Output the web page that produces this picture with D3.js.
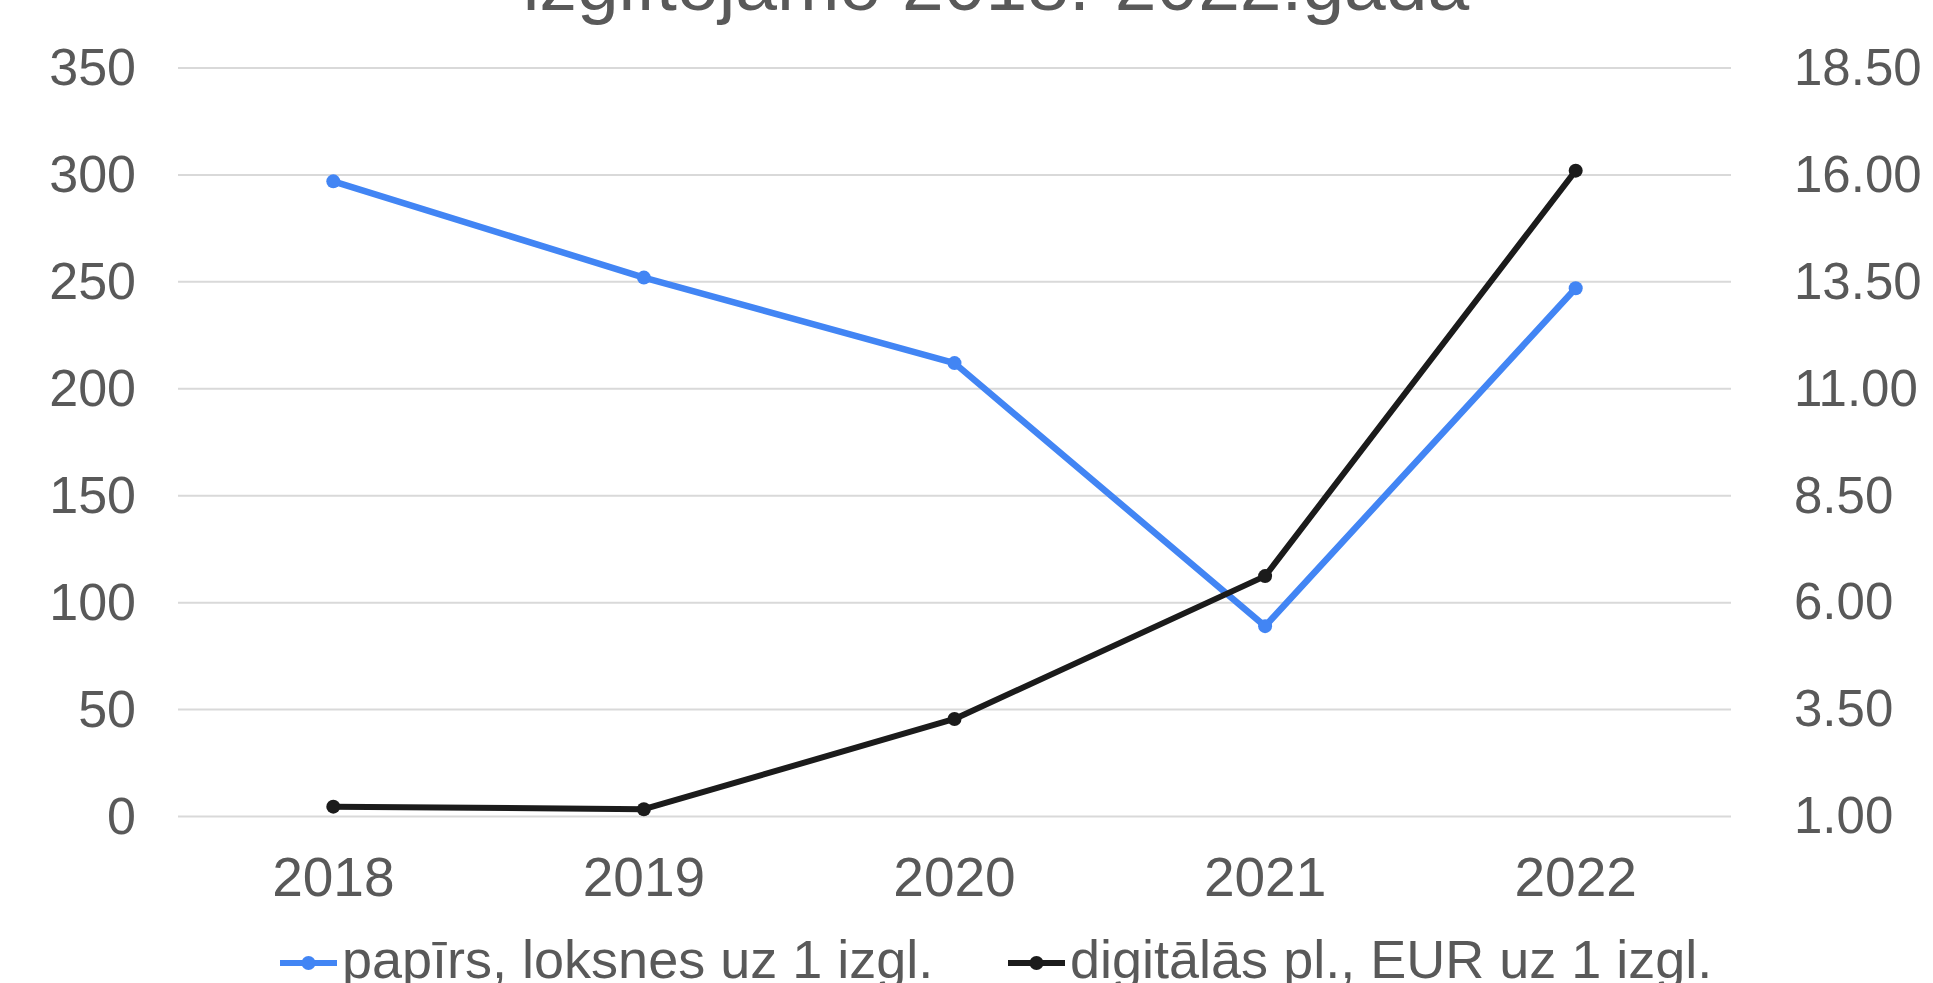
<!DOCTYPE html>
<html>
<head>
<meta charset="utf-8">
<script src="https://cdn.jsdelivr.net/npm/d3@7/dist/d3.min.js"></script>
<style>
  html, body { margin: 0; padding: 0; background: #fff; overflow: hidden; }
  svg { display: block; }
  text { font-family: "Liberation Sans", Arial, sans-serif; }
</style>
</head>
<body>
<svg id="chart" width="1933" height="983"></svg>
<script>
// Years on the category axis
const years = ["2018", "2019", "2020", "2021", "2022"];
// Paper: sheets per learner (left axis)
const paperSheets = [297, 252, 212, 89, 247];
// Digital resources: EUR per learner (right axis)
const digitalEur = [1.23, 1.17, 3.28, 6.62, 16.10];
// Axis tick values
const leftTicks = [0, 50, 100, 150, 200, 250, 300, 350];
const rightTicks = [1.00, 3.50, 6.00, 8.50, 11.00, 13.50, 16.00, 18.50];
// Legend and title labels
const seriesNames = ["papīrs, loksnes uz 1 izgl.", "digitālās pl., EUR uz 1 izgl."];
const titleText = "izglītojamo 2018.-2022.gadā";

const svg = d3.select("#chart");
const plot = { left: 178, right: 1731, top: 68, bottom: 816.5 };

const x = d3.scaleBand().domain(years).range([plot.left, plot.right]);
const yLeft = d3.scaleLinear().domain([0, 350]).range([plot.bottom, plot.top]);
const yRight = d3.scaleLinear().domain([1, 18.5]).range([plot.bottom, plot.top]);
const cx = d => x(d) + x.bandwidth() / 2;

const textColor = "#595959";
const blue = "#4285f4";
const black = "#1b1b1b";
const fontFamily = "Liberation Sans, Arial, sans-serif";

// Title (last line, partly above the top edge)
svg.append("text")
  .attr("x", 996).attr("y", 10)
  .attr("text-anchor", "middle")
  .attr("font-size", 75)
  .attr("fill", textColor)
  .text(titleText);

// Horizontal gridlines
svg.append("g")
  .selectAll("line")
  .data(leftTicks)
  .join("line")
  .attr("x1", plot.left).attr("x2", plot.right)
  .attr("y1", d => yLeft(d)).attr("y2", d => yLeft(d))
  .attr("stroke", "#d9d9d9").attr("stroke-width", 2);

// Left axis
const leftAxis = d3.axisLeft(yLeft).tickValues(leftTicks).tickSize(0).tickPadding(42).tickFormat(d3.format("d"));
svg.append("g")
  .attr("transform", `translate(${plot.left},0)`)
  .call(leftAxis)
  .call(g => g.select(".domain").remove())
  .call(g => g.selectAll("text").attr("font-size", 52).attr("fill", textColor).attr("font-family", fontFamily));

// Right axis
const rightAxis = d3.axisRight(yRight).tickValues(rightTicks).tickSize(0).tickPadding(63).tickFormat(d3.format(".2f"));
svg.append("g")
  .attr("transform", `translate(${plot.right},0)`)
  .call(rightAxis)
  .call(g => g.select(".domain").remove())
  .call(g => g.selectAll("text").attr("font-size", 51).attr("fill", textColor).attr("font-family", fontFamily));

// Bottom axis
const bottomAxis = d3.axisBottom(x).tickSize(0).tickPadding(40);
svg.append("g")
  .attr("transform", `translate(0,${plot.bottom})`)
  .call(bottomAxis)
  .call(g => g.select(".domain").remove())
  .call(g => g.selectAll("text").attr("font-size", 55).attr("fill", textColor).attr("font-family", fontFamily));

// Series lines with point markers
function drawSeries(values, scale, color, width) {
  const pts = years.map((yr, i) => ({ yr, v: values[i] }));
  const line = d3.line().x(d => cx(d.yr)).y(d => scale(d.v));
  svg.append("path")
    .datum(pts)
    .attr("d", line)
    .attr("fill", "none")
    .attr("stroke", color)
    .attr("stroke-width", width)
    .attr("stroke-linejoin", "round");
  svg.append("g")
    .selectAll("circle")
    .data(pts)
    .join("circle")
    .attr("cx", d => cx(d.yr))
    .attr("cy", d => scale(d.v))
    .attr("r", 7)
    .attr("fill", color);
}
drawSeries(paperSheets, yLeft, blue, 6.5);
drawSeries(digitalEur, yRight, black, 6);

// Legend
const legendItems = [
  { name: seriesNames[0], color: blue, x: 280 },
  { name: seriesNames[1], color: black, x: 1008 }
];
const legend = svg.append("g");
legendItems.forEach(it => {
  const g = legend.append("g").attr("transform", `translate(${it.x},963)`);
  g.append("line").attr("x1", 0).attr("x2", 57).attr("y1", 0).attr("y2", 0)
    .attr("stroke", it.color).attr("stroke-width", 6);
  g.append("circle").attr("cx", 28.5).attr("cy", 0).attr("r", 7).attr("fill", it.color);
  g.append("text").attr("x", 62).attr("y", 15)
    .attr("font-size", 54).attr("fill", textColor)
    .text(it.name);
});
</script>
</body>
</html>
